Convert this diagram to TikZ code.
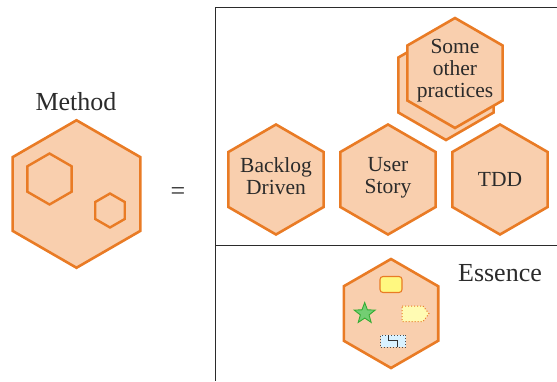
\documentclass[tikz,border=0pt]{standalone}
\usepackage{fontspec}
\setmainfont{Liberation Serif}
\usepackage{tikz}
\usetikzlibrary{shapes.geometric}
\definecolor{hexorange}{HTML}{E97B25}
\definecolor{hexfill}{HTML}{F9CFAE}
\definecolor{inkdark}{HTML}{2B2B2B}
\tikzset{
  hexa/.style={regular polygon, regular polygon sides=6, shape border rotate=30,
    draw=hexorange, line width=2.6pt, fill=hexfill, inner sep=0pt, outer sep=0pt,
    minimum size=#1},
  hexa/.default=110pt,
  hole/.style={regular polygon, regular polygon sides=6, shape border rotate=30,
    draw=hexorange, line width=2.4pt, inner sep=0pt, outer sep=0pt, minimum size=#1},
  hextext/.style={text=inkdark, align=center, inner sep=0pt, font=\fontsize{21.5}{22}\selectfont},
  label/.style={text=inkdark, font=\fontsize{26}{27}\selectfont, inner sep=0pt}
}
\begin{document}
\begin{tikzpicture}[x=1pt,y=-1pt]
  \useasboundingbox (0,0) rectangle (557,381);

  % The method on the left
  \node[label] (method) at (76,102) {Method};
  \node[hexa=147.5pt] (bigHex) at (76.5,194) {};
  \node[hole=51pt] (holeA) at (49.5,179) {};
  \node[hole=34pt] (holeB) at (110,210.5) {};
  \node[label] (equals) at (178,194) {=};

  % The frame
  \coordinate (frameTL) at (215,7);
  \coordinate (frameTR) at (557,7);
  \coordinate (frameML) at (215,245);
  \coordinate (frameMR) at (557,245);
  \coordinate (frameBL) at (215,381);
  \draw[inkdark, line width=1pt] (frameTR) -- (frameTL) -- (frameBL);
  \draw[inkdark, line width=1pt] (frameML) -- (frameMR);

  % The practices
  \node[hexa] (shadowHex) at (446,85) {};
  \node[hexa] (someHex) at (455,73) {};
  \node[hextext] (someText) at (455,70.5) {Some\\other\\practices};
  \node[hexa] (backlogHex) at (276,179.5) {};
  \node[hextext] (backlogText) at (276,176.5) {Backlog\\Driven};
  \node[hexa] (storyHex) at (388,179.5) {};
  \node[hextext] (storyText) at (388,178) {User\\Story};
  \node[hexa] (tddHex) at (500,179.5) {};
  \node[hextext] (tddText) at (500,179) {TDD};

  % The essence
  \node[label] (essence) at (500,273) {Essence};
  \node[hexa=109pt] (essenceHex) at (391,313.5) {};
  \node[draw=hexorange, line width=1.1pt, fill=yellow!50!white, rounded corners=3pt,
    minimum width=22pt, minimum height=16pt, inner sep=0pt] (alpha) at (391,284.5) {};
  \node[star, star points=5, star point ratio=2.4, draw=green!60!black!80, fill=green!65!black!55,
    line width=0.9pt, minimum size=22pt, inner sep=0pt] (starMark) at (364.7,313.5) {};
  \draw[hexorange, dotted, line width=1pt, fill=yellow!30!white]
    (402,306) -- (423,306) -- (429,313.7) -- (423,321.5) -- (402,321.5) -- cycle;
  \node[draw=black!70, dotted, line width=1pt, fill=blue!35!cyan!15!white,
    minimum width=25pt, minimum height=12pt, inner sep=0pt] (tool) at (393,341) {};
  \draw[black!80, line width=0.8pt] (388.3,335) -- (388.3,340.7) -- (397.3,340.7) -- (397.3,346.7);
\end{tikzpicture}
\end{document}
